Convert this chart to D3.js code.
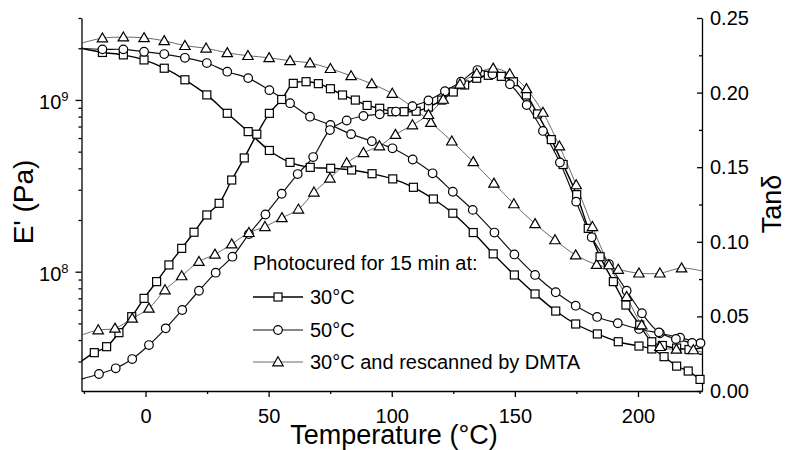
<!DOCTYPE html>
<html><head><meta charset="utf-8">
<script src="https://cdn.jsdelivr.net/npm/d3@7/dist/d3.min.js"></script>
<style>
body{margin:0;background:#fff}
svg{display:block}
text{font-family:"Liberation Sans",Arial,Helvetica,sans-serif;fill:#000}
</style>
</head><body>
<svg id="c" width="788" height="450"></svg>
<script>
// ---------- data ----------
const legendTitle = "Photocured for 15 min at:";
const seriesLabels = ["30°C", "50°C", "30°C and rescanned by DMTA"];
const xTitle = "Temperature (°C)";
const yLeftTitle = "E' (Pa)";
const yRightTitle = "Tanδ";
const xTicks = [0, 50, 100, 150, 200];
const xMinorTicks = [-25, 25, 75, 125, 175, 225];
const yLeftTicks = [1e8, 1e9];
const yLeftExponents = ["8", "9"];
const yLeftMinorTicks = [3e7,4e7,5e7,6e7,7e7,8e7,9e7,2e8,3e8,4e8,5e8,6e8,7e8,8e8,9e8,2e9,3e9];
const yRightTicks = [0, 0.05, 0.10, 0.15, 0.20, 0.25];
const yRightMinorTicks = [0.025, 0.075, 0.125, 0.175, 0.225];

// storage modulus E' (Pa) vs temperature (°C)
const eSq30 = [[-26,2.00e9],[-17.5,1.89e9],[-9.0,1.83e9],[-0.6,1.71e9],[7.6,1.53e9],[16.0,1.31e9],[24.9,1.07e9],[33.2,8.36e8],[41.7,6.54e8],[50.3,5.08e8],[58.7,4.33e8],[66.9,4.05e8],[75.2,4.00e8],[83.7,3.91e8],[92.0,3.72e8],[100.4,3.47e8],[108.8,3.10e8],[116.9,2.65e8],[124.8,2.19e8],[133.1,1.69e8],[141.2,1.27e8],[149.8,9.57e7],[158.2,7.42e7],[166.6,5.90e7],[174.7,4.96e7],[183.5,4.34e7],[192.0,3.91e7],[200.4,3.69e7],[205.6,3.55e7],[210.6,3.20e7],[215.7,2.82e7],[220.4,2.64e7],[225.2,2.36e7]];
const eCi50 = [[-26,2.00e9],[-17.5,1.97e9],[-9.0,1.97e9],[-0.6,1.91e9],[7.6,1.85e9],[16.0,1.76e9],[24.9,1.64e9],[33.2,1.46e9],[41.7,1.34e9],[50.3,1.14e9],[58.7,9.57e8],[66.8,7.99e8],[75.1,7.15e8],[83.5,6.32e8],[91.9,5.75e8],[100.3,5.23e8],[108.5,4.50e8],[116.6,3.74e8],[124.8,2.92e8],[132.9,2.29e8],[141.7,1.69e8],[149.8,1.26e8],[158.2,9.57e7],[166.6,7.59e7],[174.7,6.34e7],[183.4,5.45e7],[191.8,5.01e7],[200.4,4.64e7],[208.9,4.38e7],[217.1,4.13e7],[225.4,3.84e7]];
const eTr30R = [[-26,2.14e9],[-17.5,2.29e9],[-9.0,2.32e9],[-0.6,2.30e9],[7.6,2.21e9],[16.0,2.07e9],[24.6,2.00e9],[33.2,1.88e9],[41.6,1.81e9],[50.2,1.76e9],[58.7,1.69e9],[66.8,1.64e9],[75.1,1.52e9],[83.5,1.38e9],[91.9,1.24e9],[100.2,1.09e9],[108.6,9.04e8],[115.9,7.38e8],[124.4,5.75e8],[133.1,4.36e8],[141.5,3.27e8],[149.6,2.48e8],[158.2,1.90e8],[166.3,1.53e8],[174.7,1.25e8],[183.2,1.10e8],[192.0,1.03e8],[200.4,9.8e7],[208.9,9.8e7],[217.7,1.05e8],[226,1.01e8]];

// loss tangent tan δ vs temperature (°C)
const tanSq30 = [[-26,0.020],[-20.8,0.0257],[-15.8,0.0297],[-10.8,0.0391],[-5.6,0.0498],[-0.6,0.0621],[4.5,0.0733],[9.5,0.0845],[14.7,0.0956],[19.7,0.1064],[24.9,0.1180],[29.9,0.1258],[35.0,0.1414],[40.1,0.1562],[45.2,0.1721],[50.3,0.1861],[55.3,0.1954],[60.0,0.2062],[65.2,0.2073],[70.2,0.2060],[75.1,0.2026],[80.0,0.1984],[85.2,0.1950],[90.0,0.1914],[95.1,0.1895],[100.1,0.1872],[105.0,0.1872],[109.9,0.1875],[114.9,0.1903],[120.3,0.1950],[125.0,0.2004],[129.6,0.2051],[134.5,0.2096],[139.2,0.2116],[144.5,0.2109],[149.4,0.2073],[154.7,0.1984],[159.2,0.1857],[164.8,0.1685],[169.6,0.1518],[175.1,0.1316],[179.8,0.1090],[184.6,0.0900],[190.0,0.0733],[195.1,0.0576],[200.7,0.0442],[205.6,0.0330],[209.9,0.0305],[215.7,0.0288],[220.7,0.0278],[226,0.029]];
const tanCi50 = [[-26,0.008],[-18.9,0.0114],[-12.1,0.0152],[-5.4,0.0214],[1.4,0.0308],[8.2,0.0420],[14.9,0.0543],[21.7,0.0672],[28.5,0.0793],[35.3,0.0900],[42.0,0.1052],[48.7,0.1183],[55.3,0.1322],[61.8,0.1454],[68.1,0.1568],[74.9,0.1749],[81.7,0.1813],[88.5,0.1843],[95.1,0.1855],[101.7,0.1873],[108.4,0.1909],[114.9,0.1947],[121.6,0.2009],[128.1,0.2073],[134.8,0.2151],[140.9,0.2123],[148.0,0.2056],[154.8,0.1917],[161.4,0.1743],[168.3,0.1532],[174.9,0.1269],[181.2,0.1030],[188.2,0.0851],[195.4,0.0672],[201.6,0.0521],[208.5,0.0393],[215.4,0.0349],[222.0,0.0322],[226,0.031]];
const tanTr30R = [[-26,0.0375],[-19.2,0.0409],[-12.4,0.0420],[-5.4,0.0487],[1.4,0.0554],[7.9,0.0677],[14.7,0.0771],[21.7,0.0867],[28.2,0.0916],[35.0,0.0985],[42.0,0.1061],[48.5,0.1101],[55.4,0.1161],[62.1,0.1218],[68.4,0.1332],[74.9,0.1426],[81.7,0.1528],[88.5,0.1597],[95.0,0.1642],[101.5,0.1719],[108.4,0.1783],[114.9,0.1852],[120.9,0.1954],[127.7,0.2056],[134.5,0.2128],[141.2,0.2163],[147.9,0.2125],[154.7,0.2025],[161.4,0.1867],[168.1,0.1641],[174.9,0.1381],[181.5,0.1101],[188.2,0.0845],[195.4,0.0632],[201.5,0.0442],[208.9,0.0297],[215.6,0.0279],[222.5,0.0275],[226,0.026]];

// ---------- chart ----------
const svg = d3.select("#c");
const FONT = "Liberation Sans, Arial, Helvetica, sans-serif";
const L = 81.5, R = 702, T = 18, B = 391;

const x = d3.scaleLinear().domain([-26, 226]).range([L, R]);
const yL = d3.scaleLog().domain([2.02e7, 3.0e9]).range([B, T]);
const yR = d3.scaleLinear().domain([0, 0.25]).range([B, T]);

function styleAxis(g, fs) {
  g.attr("font-family", FONT).attr("font-size", fs);
  g.selectAll("path,line").attr("stroke", "#000").attr("stroke-width", 1.3);
  g.selectAll("text").attr("fill", "#000");
}

// bottom axis
const gx = svg.append("g").attr("transform", `translate(0,${B})`)
  .call(d3.axisBottom(x).tickValues(xTicks).tickSize(6).tickSizeOuter(0).tickPadding(12).tickFormat(d3.format("d")));
styleAxis(gx, 20);
const gxm = svg.append("g").attr("transform", `translate(0,${B})`)
  .call(d3.axisBottom(x).tickValues(xMinorTicks).tickSize(3).tickFormat(""));
gxm.select(".domain").remove();
styleAxis(gxm, 20);

// left axis
const gl = svg.append("g").attr("transform", `translate(${L},0)`)
  .call(d3.axisLeft(yL).tickValues(yLeftTicks).tickSize(6).tickSizeOuter(0).tickFormat(() => ""));
styleAxis(gl, 20);
const glm = svg.append("g").attr("transform", `translate(${L},0)`)
  .call(d3.axisLeft(yL).tickValues(yLeftMinorTicks).tickSize(3).tickFormat(() => ""));
glm.select(".domain").remove();
styleAxis(glm, 20);
yLeftTicks.forEach((v, i) => {
  const t = svg.append("text").attr("x", L - 13).attr("y", yL(v) + 9)
    .attr("text-anchor", "end").attr("font-size", 20);
  t.append("tspan").text("10");
  t.append("tspan").attr("dy", -8).attr("font-size", 13).text(yLeftExponents[i]);
});

// right axis
const gr = svg.append("g").attr("transform", `translate(${R},0)`)
  .call(d3.axisRight(yR).tickValues(yRightTicks).tickSize(-5).tickSizeOuter(0).tickPadding(8).tickFormat(d3.format(".2f")));
styleAxis(gr, 20);
const grm = svg.append("g").attr("transform", `translate(${R},0)`)
  .call(d3.axisRight(yR).tickValues(yRightMinorTicks).tickSize(-3).tickFormat(""));
grm.select(".domain").remove();
styleAxis(grm, 20);

// titles
svg.append("text").attr("x", 394).attr("y", 444).attr("text-anchor", "middle")
  .attr("font-size", 27).text(xTitle);
svg.append("text").attr("transform", "translate(33,202) rotate(-90)").attr("text-anchor", "middle")
  .attr("font-size", 28).text(yLeftTitle);
svg.append("text").attr("transform", "translate(781,204) rotate(-90)").attr("text-anchor", "middle")
  .attr("font-size", 27).text(yRightTitle);

// series
const styles = [
  {shape: "square", stroke: "#000", width: 1.4},
  {shape: "circle", stroke: "#111", width: 1.2},
  {shape: "triangle", stroke: "#444", width: 0.8}
];
const series = [
  {data: eSq30, y: yL, s: 0}, {data: eCi50, y: yL, s: 1}, {data: eTr30R, y: yL, s: 2},
  {data: tanSq30, y: yR, s: 0}, {data: tanCi50, y: yR, s: 1}, {data: tanTr30R, y: yR, s: 2}
];

function marker(g, shape, cx, cy) {
  if (shape === "square") {
    g.append("rect").attr("x", cx - 4).attr("y", cy - 4).attr("width", 8).attr("height", 8)
      .attr("fill", "#fff").attr("stroke", "#000").attr("stroke-width", 1.2);
  } else if (shape === "circle") {
    g.append("circle").attr("cx", cx).attr("cy", cy).attr("r", 4.3)
      .attr("fill", "#fff").attr("stroke", "#000").attr("stroke-width", 1.2);
  } else {
    g.append("path").attr("d", `M${cx},${cy - 5.2}L${cx + 5.2},${cy + 3.8}L${cx - 5.2},${cy + 3.8}Z`)
      .attr("fill", "#fff").attr("stroke", "#000").attr("stroke-width", 1.2);
  }
}

const lineLayer = svg.append("g");
const markLayer = svg.append("g");
series.forEach(sr => {
  const st = styles[sr.s];
  const line = d3.line().x(d => x(d[0])).y(d => sr.y(d[1])).curve(d3.curveCatmullRom.alpha(0.5));
  lineLayer.append("path").attr("d", line(sr.data)).attr("fill", "none")
    .attr("stroke", st.stroke).attr("stroke-width", st.width);
});
series.forEach(sr => {
  const st = styles[sr.s];
  sr.data.filter(d => d[0] > -25.9 && d[0] < 225.9)
    .forEach(d => marker(markLayer, st.shape, x(d[0]), sr.y(d[1])));
});

// legend
const lg = svg.append("g");
lg.append("text").attr("x", 253).attr("y", 270).attr("font-size", 20).text(legendTitle);
const rowY = [297, 330, 362];
seriesLabels.forEach((lab, i) => {
  const st = styles[i];
  lg.append("line").attr("x1", 253).attr("x2", 303).attr("y1", rowY[i]).attr("y2", rowY[i])
    .attr("stroke", st.stroke).attr("stroke-width", st.width);
  marker(lg, st.shape, 278, rowY[i]);
  lg.append("text").attr("x", 310).attr("y", rowY[i]).attr("dy", "0.36em").attr("font-size", 20).text(lab);
});
</script>
</body></html>
